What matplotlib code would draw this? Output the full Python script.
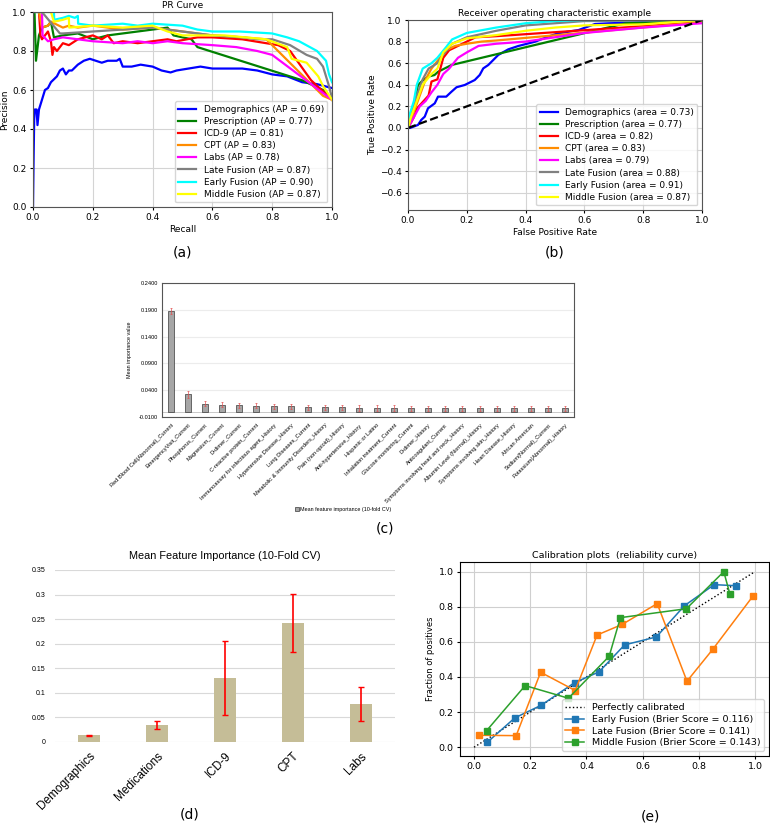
import matplotlib
matplotlib.use("Agg")
import matplotlib.pyplot as plt
import numpy as np

# ---------------- data ----------------
# (a) PR curves: recall / precision waypoints
pr_names = ["Demographics", "Prescription", "ICD-9", "CPT", "Labs",
            "Late Fusion", "Early Fusion", "Middle Fusion"]
pr_ap = [0.69, 0.77, 0.81, 0.83, 0.78, 0.87, 0.90, 0.87]
roc_auc = [0.73, 0.77, 0.82, 0.83, 0.79, 0.88, 0.91, 0.87]
curve_colors = ["blue", "green", "red", "darkorange", "magenta", "gray", "cyan", "yellow"]

demo_rec = [0.0, 0.002, 0.004, 0.006, 0.012, 0.015, 0.02, 0.03, 0.04, 0.05, 0.06, 0.08, 0.09,
            0.10, 0.11, 0.12, 0.13, 0.15, 0.17, 0.19, 0.21, 0.23, 0.25, 0.28, 0.29, 0.30, 0.33,
            0.36, 0.40, 0.43, 0.46, 0.48, 0.52, 0.56, 0.60, 0.65, 0.70, 0.75, 0.80, 0.85, 0.90,
            0.95, 1.0]
demo_prec = [0.0, 0.25, 0.45, 0.50, 0.50, 0.42, 0.50, 0.55, 0.60, 0.61, 0.64, 0.67, 0.70,
             0.71, 0.68, 0.70, 0.70, 0.73, 0.75, 0.76, 0.75, 0.74, 0.75, 0.75, 0.76, 0.72, 0.72,
             0.73, 0.72, 0.70, 0.69, 0.70, 0.71, 0.72, 0.71, 0.71, 0.71, 0.70, 0.68, 0.67, 0.64,
             0.63, 0.61]
presc_rec = [0.0, 0.005, 0.01, 0.02, 0.03, 0.05, 0.06, 0.07, 0.10, 0.15, 0.20, 0.25, 0.30,
             0.35, 0.40, 0.45, 0.47, 0.50, 0.53, 0.55, 0.90, 0.97, 1.0]
presc_prec = [1.0, 1.0, 0.75, 0.88, 0.92, 0.93, 0.95, 0.87, 0.88, 0.89, 0.86, 0.88, 0.89,
              0.90, 0.91, 0.92, 0.88, 0.87, 0.86, 0.82, 0.65, 0.60, 0.55]
icd_rec = [0.02, 0.025, 0.03, 0.05, 0.06, 0.065, 0.07, 0.08, 0.10, 0.12, 0.15, 0.20, 0.23,
           0.25, 0.27, 0.30, 0.35, 0.40, 0.45, 0.48, 0.55, 0.60, 0.70, 0.78, 0.82, 0.86,
           0.93, 1.0]
icd_prec = [1.0, 0.88, 0.86, 0.90, 0.85, 0.78, 0.82, 0.80, 0.84, 0.83, 0.86, 0.88, 0.86,
            0.88, 0.84, 0.85, 0.84, 0.85, 0.86, 0.85, 0.87, 0.87, 0.86, 0.84, 0.83, 0.80,
            0.65, 0.55]
cpt_rec = [0.02, 0.03, 0.05, 0.06, 0.10, 0.12, 0.15, 0.20, 0.30, 0.40, 0.50, 0.60, 0.70,
           0.78, 0.80, 0.97, 1.0]
cpt_prec = [1.0, 0.92, 0.93, 0.95, 0.92, 0.93, 0.92, 0.93, 0.91, 0.92, 0.90, 0.88, 0.87,
            0.86, 0.83, 0.57, 0.55]
labs_rec = [0.03, 0.032, 0.05, 0.07, 0.10, 0.15, 0.20, 0.30, 0.35, 0.40, 0.45, 0.50, 0.60,
            0.68, 0.75, 0.80, 1.0]
labs_prec = [1.0, 0.88, 0.85, 0.86, 0.87, 0.86, 0.85, 0.84, 0.85, 0.84, 0.85, 0.84, 0.83,
             0.82, 0.80, 0.78, 0.55]
late_rec = [0.0, 0.03, 0.09, 0.10, 0.20, 0.30, 0.40, 0.50, 0.60, 0.70, 0.75, 0.80, 0.86,
            0.915, 0.95, 0.97, 0.99, 1.0]
late_prec = [1.0, 1.0, 0.89, 0.89, 0.90, 0.91, 0.92, 0.90, 0.88, 0.87, 0.86, 0.86, 0.83,
             0.78, 0.76, 0.72, 0.62, 0.56]
early_rec = [0.0, 0.07, 0.071, 0.10, 0.12, 0.14, 0.15, 0.151, 0.20, 0.30, 0.35, 0.40, 0.50,
             0.55, 0.60, 0.69, 0.80, 0.85, 0.89, 0.95, 0.98, 0.99, 1.0]
early_prec = [1.0, 1.0, 0.96, 0.97, 0.98, 0.97, 0.98, 0.94, 0.93, 0.94, 0.93, 0.94, 0.93,
              0.91, 0.90, 0.90, 0.89, 0.87, 0.85, 0.80, 0.75, 0.68, 0.64]
mid_rec = [0.015, 0.06, 0.07, 0.10, 0.12, 0.121, 0.20, 0.30, 0.40, 0.45, 0.50, 0.64, 0.78,
           0.85, 0.865, 0.915, 0.954, 0.97, 1.0]
mid_prec = [1.0, 1.0, 0.95, 0.96, 0.97, 0.92, 0.93, 0.92, 0.93, 0.90, 0.88, 0.88, 0.86,
            0.82, 0.76, 0.74, 0.67, 0.62, 0.55]

# (b) ROC curves: fpr / tpr waypoints
demo_fpr = [0.0, 0.007, 0.034, 0.045, 0.057, 0.068, 0.091, 0.102, 0.13, 0.148, 0.165, 0.193,
            0.227, 0.244, 0.256, 0.273, 0.307, 0.341, 0.375, 0.432, 0.477, 0.511, 0.58,
            0.636, 0.68, 1.0]
demo_tpr = [0.0, 0.0, 0.028, 0.074, 0.105, 0.182, 0.228, 0.29, 0.29, 0.336, 0.377, 0.398,
            0.444, 0.491, 0.552, 0.583, 0.676, 0.728, 0.759, 0.799, 0.846, 0.877, 0.907,
            0.963, 0.969, 1.0]
presc_fpr = [0.0, 0.01, 0.02, 0.034, 0.05, 0.068, 0.09, 0.102, 0.148, 0.739, 1.0]
presc_tpr = [0.0, 0.10, 0.22, 0.398, 0.44, 0.475, 0.49, 0.52, 0.583, 0.969, 1.0]
icd_fpr = [0.0, 0.02, 0.03, 0.05, 0.07, 0.08, 0.10, 0.11, 0.12, 0.14, 0.17, 0.20, 0.23,
           0.30, 1.0]
icd_tpr = [0.0, 0.10, 0.18, 0.24, 0.30, 0.43, 0.45, 0.55, 0.65, 0.72, 0.76, 0.80, 0.84,
           0.85, 0.98]
cpt_fpr = [0.0, 0.02, 0.04, 0.06, 0.08, 0.10, 0.13, 0.16, 0.20, 0.25, 0.30, 1.0]
cpt_tpr = [0.0, 0.15, 0.30, 0.45, 0.55, 0.62, 0.72, 0.76, 0.78, 0.80, 0.81, 0.98]
labs_fpr = [0.0, 0.02, 0.04, 0.06, 0.08, 0.10, 0.12, 0.14, 0.17, 0.20, 0.24, 0.30, 0.40,
            0.50, 0.60, 0.80, 1.0]
labs_tpr = [0.0, 0.10, 0.20, 0.25, 0.33, 0.40, 0.50, 0.55, 0.65, 0.70, 0.76, 0.78, 0.80,
            0.84, 0.88, 0.93, 0.97]
late_fpr = [0.0, 0.01, 0.03, 0.05, 0.07, 0.10, 0.12, 0.15, 0.20, 0.30, 0.40, 0.50, 0.60, 1.0]
late_tpr = [0.0, 0.10, 0.30, 0.45, 0.55, 0.60, 0.68, 0.78, 0.84, 0.90, 0.95, 0.97, 0.99, 1.0]
early_fpr = [0.0, 0.005, 0.02, 0.03, 0.05, 0.08, 0.10, 0.13, 0.15, 0.20, 0.30, 0.40, 0.50,
             0.60, 1.0]
early_tpr = [0.0, 0.12, 0.25, 0.40, 0.55, 0.60, 0.65, 0.75, 0.82, 0.88, 0.93, 0.97, 0.99,
             1.0, 1.0]
mid_fpr = [0.0, 0.01, 0.03, 0.05, 0.08, 0.10, 0.12, 0.15, 0.20, 0.30, 0.40, 0.50, 0.60,
           0.80, 1.0]
mid_tpr = [0.0, 0.10, 0.25, 0.40, 0.50, 0.55, 0.70, 0.78, 0.83, 0.86, 0.90, 0.93, 0.95,
           0.96, 1.0]

# (c) per-feature importance
feat_names = ["Red Blood Cell(Abnormal)_Current", "EmergencyVisit_Current",
              "Phosphorus_Current", "Magnesium_Current", "D-dimer_Current",
              "C-reactive protein_Current", "Immunoassay for infectious agent_History",
              "Hypertensive Disease_History", "Lung Diseases_Current",
              "Metabolic & Immunity Disorders_History", "Pain (non-opioid)_History",
              "Anti-hypertensive_History", "Hispanic or Latino",
              "Inhalation treatment_Current", "Glucose monitoring_Current",
              "D-dimer_History", "Anticoagulant_Current",
              "Symptoms involving head and neck_History",
              "Albumin Level (Normal)_History", "Symptoms involving skin_History",
              "Heart Disease_History", "African American", "Sodium(Normal)_Current",
              "Potassium(Abnormal)_History"]
feat_mean = [0.188, 0.032, 0.015, 0.013, 0.012, 0.011, 0.010, 0.010, 0.008, 0.008, 0.008,
             0.007, 0.007, 0.007, 0.006, 0.006, 0.006, 0.006, 0.006, 0.006, 0.006, 0.006,
             0.006, 0.006]
feat_err = [0.005, 0.006, 0.005, 0.005, 0.005, 0.005, 0.005, 0.005, 0.005, 0.005, 0.005,
            0.005, 0.005, 0.005, 0.005, 0.005, 0.005, 0.005, 0.005, 0.005, 0.005, 0.005,
            0.005, 0.005]
c_ticks = [-0.01, 0.04, 0.09, 0.14, 0.19, 0.24]

# (d) per-modality importance
mod_names = ["Demographics", "Medications", "ICD-9", "CPT", "Labs"]
mod_mean = [0.014, 0.035, 0.130, 0.243, 0.077]
mod_err = [0.001, 0.0085, 0.076, 0.059, 0.034]
d_ticks = [0, 0.05, 0.1, 0.15, 0.2, 0.25, 0.3, 0.35]
d_tick_labels = ["0", "0.05", "0.1", "0.15", "0.2", "0.25", "0.3", "0.35"]

# (e) calibration
early_pred = [0.047, 0.145, 0.239, 0.358, 0.445, 0.536, 0.649, 0.749, 0.855, 0.931]
early_frac = [0.028, 0.167, 0.239, 0.368, 0.429, 0.583, 0.628, 0.806, 0.926, 0.920]
late_pred = [0.017, 0.150, 0.237, 0.360, 0.438, 0.528, 0.652, 0.758, 0.851, 0.993]
late_frac = [0.068, 0.066, 0.427, 0.323, 0.639, 0.700, 0.818, 0.376, 0.560, 0.861]
mid_pred = [0.045, 0.182, 0.336, 0.481, 0.521, 0.756, 0.889, 0.911]
mid_frac = [0.095, 0.351, 0.279, 0.518, 0.738, 0.789, 1.0, 0.871]
brier = [0.116, 0.141, 0.143]

W, H = 770, 823


def px_box(l, t, r, b):
    return [l / W, 1 - b / H, (r - l) / W, (b - t) / H]


fig = plt.figure(figsize=(W / 100, H / 100), dpi=100)

# ---------- (a) PR curve ----------
ax = fig.add_axes(px_box(33, 12, 332, 207))
pr_curves = [(demo_rec, demo_prec), (presc_rec, presc_prec), (icd_rec, icd_prec),
             (cpt_rec, cpt_prec), (labs_rec, labs_prec), (late_rec, late_prec),
             (early_rec, early_prec), (mid_rec, mid_prec)]
for (r, p), name, ap, c in zip(pr_curves, pr_names, pr_ap, curve_colors):
    ax.plot(r, p, color=c, lw=1.6, label=f"{name} (AP = {ap:.2f})")
ax.set_xlim(0, 1)
ax.set_ylim(0, 1)
ax.grid(color="#d4d4d4", lw=0.8)
ax.set_title("PR Curve", fontsize=6.5, pad=3)
ax.set_xlabel("Recall", fontsize=6.5, labelpad=2)
ax.set_ylabel("Precision", fontsize=6.5, labelpad=2)
ax.tick_params(labelsize=6.5, length=2.5, pad=2)
for s in ax.spines.values():
    s.set_color("#555555")
ax.legend(loc="lower right", fontsize=6.5, handlelength=2.0, labelspacing=0.35,
          borderpad=0.4, fancybox=True)

# ---------- (b) ROC ----------
ax = fig.add_axes(px_box(408, 20, 702, 210))
roc_curves = [(demo_fpr, demo_tpr), (presc_fpr, presc_tpr), (icd_fpr, icd_tpr),
              (cpt_fpr, cpt_tpr), (labs_fpr, labs_tpr), (late_fpr, late_tpr),
              (early_fpr, early_tpr), (mid_fpr, mid_tpr)]
for (f, t), name, auc, c in zip(roc_curves, pr_names, roc_auc, curve_colors):
    ax.plot(f, t, color=c, lw=1.6, label=f"{name} (area = {auc:.2f})")
ax.plot([0, 1], [0, 1], "k--", lw=1.6)
ax.set_xlim(0, 1)
ax.set_ylim(-0.76, 1.0)
ax.set_yticks(np.arange(-0.6, 1.01, 0.2))
ax.grid(color="#d4d4d4", lw=0.8)
ax.set_title("Receiver operating characteristic example", fontsize=6.5, pad=3)
ax.set_xlabel("False Positive Rate", fontsize=6.5, labelpad=2)
ax.set_ylabel("True Positive Rate", fontsize=6.5, labelpad=2)
ax.tick_params(labelsize=6.5, length=2.5, pad=2)
for s in ax.spines.values():
    s.set_color("#555555")
ax.legend(loc="lower right", fontsize=6.5, handlelength=2.0, labelspacing=0.35,
          borderpad=0.4, fancybox=True)

# ---------- (c) feature importance ----------
ax = fig.add_axes(px_box(162, 283, 574, 417))
xc = np.arange(len(feat_names))
ax.bar(xc, feat_mean, width=0.35, color="#a6a6a6", edgecolor="#3a3a3a", lw=0.5,
       label="Mean feature importance (10-fold CV)", zorder=3)
ax.errorbar(xc, feat_mean, yerr=feat_err, fmt="none", ecolor="#e05050", elinewidth=0.5,
            capsize=1, capthick=0.5, zorder=4)
ax.axhline(0, color="#bfbfbf", lw=0.6, zorder=2)
ax.set_xlim(-0.5, len(feat_names) - 0.5)
ax.set_ylim(-0.01, 0.24)
ax.set_yticks(c_ticks)
ax.set_yticklabels([f"{v:.4f}" for v in c_ticks])
ax.yaxis.grid(True, color="#ececec", lw=0.8)
ax.set_axisbelow(True)
ax.set_xticks(xc)
ax.set_xticklabels(feat_names, rotation=45, ha="right", rotation_mode="anchor",
                   fontsize=4.1, family="Liberation Sans")
ax.tick_params(axis="x", length=0, pad=4)
ax.tick_params(axis="y", length=0, pad=3, labelsize=4.1)
for lab in ax.get_yticklabels():
    lab.set_family("Liberation Sans")
for s in ax.spines.values():
    s.set_color("#555555")
    s.set_linewidth(0.8)
ax.set_ylabel("Mean importance value", fontsize=3.9, family="Liberation Sans", labelpad=5)
ax.legend(loc="center", bbox_to_anchor=(0.44, -0.687), frameon=False,
          prop={"family": "Liberation Sans", "size": 3.9}, handlelength=0.7,
          handletextpad=0.2)

# ---------- (d) modality importance ----------
ax = fig.add_axes(px_box(55, 570, 395, 742))
xd = np.arange(len(mod_names))
ax.bar(xd, mod_mean, width=0.31, color="#c5bd97", zorder=3)
ax.errorbar(xd, mod_mean, yerr=mod_err, fmt="none", ecolor="red", elinewidth=1.2,
            capsize=2, capthick=1.0, zorder=4)
ax.set_xlim(-0.5, len(mod_names) - 0.5)
ax.set_ylim(0, 0.35)
ax.set_yticks(d_ticks)
ax.set_yticklabels(d_tick_labels, fontsize=5, family="Liberation Sans")
ax.yaxis.grid(True, color="#d9d9d9", lw=0.8)
ax.set_axisbelow(True)
ax.set_xticks(xd)
ax.set_xticklabels(mod_names, rotation=45, ha="right", rotation_mode="anchor",
                   fontsize=8.5, family="Liberation Sans")
ax.tick_params(length=0)
ax.tick_params(axis="x", pad=6)
ax.tick_params(axis="y", pad=7)
for s in ax.spines.values():
    s.set_visible(False)
ax.set_title("Mean Feature Importance (10-Fold CV)", fontsize=7.8,
             family="Liberation Sans", pad=8)

# ---------- (e) calibration ----------
ax = fig.add_axes(px_box(460, 562, 769, 756))
ax.plot([0, 1], [0, 1], "k:", lw=1, label="Perfectly calibrated")
ax.plot(early_pred, early_frac, "s-", color="tab:blue", lw=1.1, ms=4,
        label=f"Early Fusion (Brier Score = {brier[0]:.3f})")
ax.plot(late_pred, late_frac, "s-", color="tab:orange", lw=1.1, ms=4,
        label=f"Late Fusion (Brier Score = {brier[1]:.3f})")
ax.plot(mid_pred, mid_frac, "s-", color="tab:green", lw=1.1, ms=4,
        label=f"Middle Fusion (Brier Score = {brier[2]:.3f})")
ax.set_xlim(-0.05, 1.05)
ax.set_ylim(-0.05, 1.055)
ax.grid(color="#cfcfcf", lw=0.8)
ax.set_title("Calibration plots  (reliability curve)", fontsize=6.8, pad=3)
ax.set_ylabel("Fraction of positives", fontsize=6, labelpad=3)
ax.tick_params(labelsize=6.8, length=2.5, pad=2)
ax.legend(loc="lower right", fontsize=6.8, handlelength=2.0, labelspacing=0.3,
          borderpad=0.4)

# panel labels
for lab, x, y in [("(a)", 183, 252), ("(b)", 555, 252), ("(c)", 385, 528),
                  ("(d)", 190, 815), ("(e)", 650, 817)]:
    fig.text(x / W, 1 - y / H, lab, fontsize=10, ha="center", va="center")

fig.savefig("out.png", dpi=100)
